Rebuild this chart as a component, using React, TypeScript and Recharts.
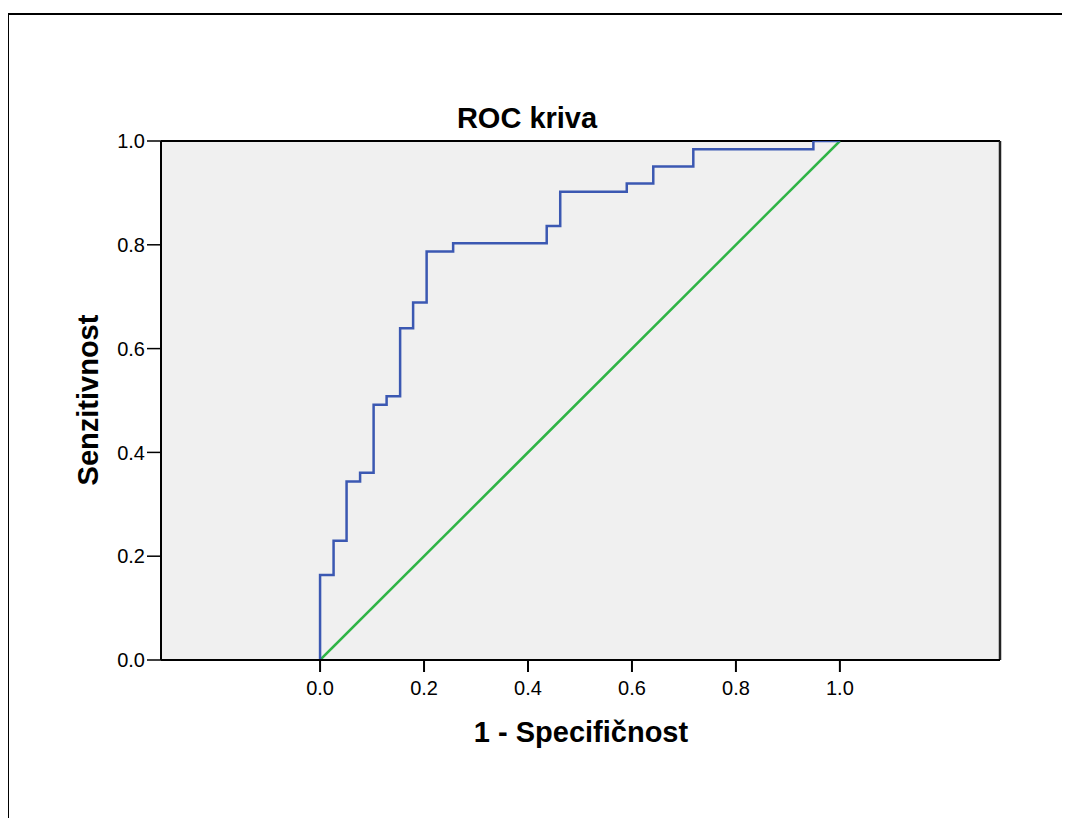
import React from "react";
import {
  LineChart,
  Line,
  XAxis,
  YAxis,
  CartesianGrid,
  ReferenceLine,
} from "recharts";

// ROC curve points (1 - specificity, sensitivity)
const fpr = [0, 0, 0.026, 0.051, 0.077, 0.103, 0.128, 0.154, 0.179, 0.205, 0.256, 0.436, 0.462, 0.59, 0.641, 0.718, 0.949, 1.0];
const tpr = [0, 0.164, 0.23, 0.344, 0.361, 0.492, 0.508, 0.639, 0.689, 0.787, 0.803, 0.836, 0.902, 0.918, 0.951, 0.984, 1.0, 1.0];

// Reference diagonal
const diagX = [0, 1];
const diagY = [0, 1];

const xTicks = [0, 0.2, 0.4, 0.6, 0.8, 1.0];
const yTicks = [0, 0.2, 0.4, 0.6, 0.8, 1.0];
const xDomain = [-0.306, 1.308];
const yDomain = [0, 1];

const titleText = "ROC kriva";
const xLabelText = "1 - Specifičnost";
const yLabelText = "Senzitivnost";

const rocData = fpr.map((x, i) => ({ x, roc: tpr[i] }));
const diagData = diagX.map((x, i) => ({ x, diag: diagY[i] }));

const FONT = "'Liberation Sans', Arial, sans-serif";
const W = 1054;
const H = 802;

export default function App() {
  return (
    <div style={{ position: "relative", width: 1070, height: 818 }}>
      <style>{`html,body{overflow:hidden}#root{width:1070px;height:818px}`}</style>
      <div
        style={{
          position: "absolute",
          left: -1,
          top: 5,
          width: 1071,
          height: 813,
          boxSizing: "border-box",
          borderTop: "2px solid #000",
          borderLeft: "2px solid #000",
        }}
      />
      <div style={{ position: "absolute", left: 0, top: 0 }}>
        <LineChart
          width={W}
          height={H}
          margin={{ top: 133, right: 62, bottom: 90, left: 73 }}
          style={{ fontFamily: FONT }}
        >
          <CartesianGrid fill="#f0f0f0" horizontal={false} vertical={false} stroke="none" />
          <XAxis
            type="number"
            dataKey="x"
            domain={xDomain}
            ticks={xTicks}
            allowDataOverflow
            height={60}
            tickSize={12}
            tickMargin={9}
            tickFormatter={(v: number) => v.toFixed(1)}
            axisLine={{ stroke: "#000", strokeWidth: 2 }}
            tickLine={{ stroke: "#000", strokeWidth: 2 }}
            tick={{ fill: "#000", fontSize: 20, fontFamily: FONT }}
          />
          <YAxis
            type="number"
            domain={yDomain}
            ticks={yTicks}
            allowDataOverflow
            width={80}
            tickSize={14}
            tickMargin={2}
            tickFormatter={(v: number) => v.toFixed(1)}
            axisLine={{ stroke: "#000", strokeWidth: 2 }}
            tickLine={{ stroke: "#000", strokeWidth: 1.5 }}
            tick={{ fill: "#000", fontSize: 20, fontFamily: FONT }}
          />
          <ReferenceLine y={1} stroke="#000" strokeWidth={2} ifOverflow="visible" />
          <ReferenceLine x={xDomain[1]} stroke="#222" strokeWidth={2.5} ifOverflow="visible" />
          <Line
            data={diagData}
            dataKey="diag"
            type="linear"
            stroke="#2fb446"
            strokeWidth={2.5}
            dot={false}
            activeDot={false}
            isAnimationActive={false}
          />
          <Line
            data={rocData}
            dataKey="roc"
            type="stepAfter"
            stroke="#3b58b2"
            strokeWidth={2.5}
            dot={false}
            activeDot={false}
            isAnimationActive={false}
          />
        </LineChart>
      </div>
      <svg
        width={W}
        height={H}
        style={{ position: "absolute", left: 0, top: 0, pointerEvents: "none" }}
      >
        <text x={519} y={120} textAnchor="middle" fontFamily={FONT} fontWeight="bold" fontSize={29} fill="#000">
          {titleText}
        </text>
        <text x={573} y={734} textAnchor="middle" fontFamily={FONT} fontWeight="bold" fontSize={29} fill="#000">
          {xLabelText}
        </text>
        <text
          x={0}
          y={0}
          transform="translate(90,392) rotate(-90)"
          textAnchor="middle"
          fontFamily={FONT}
          fontWeight="bold"
          fontSize={29}
          fill="#000"
        >
          {yLabelText}
        </text>
      </svg>
    </div>
  );
}
